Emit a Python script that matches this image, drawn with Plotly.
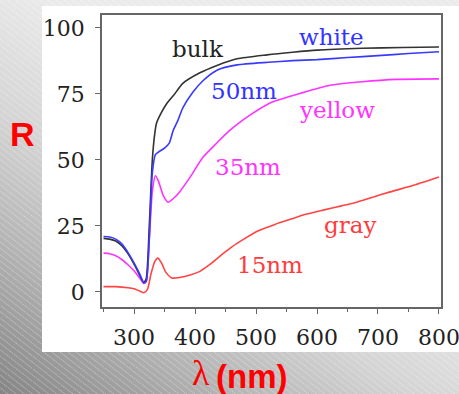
import base64
import plotly.graph_objects as go

# ---- data ----
wl_bulk = [250, 260, 270, 280, 290, 300, 310, 316, 320, 325, 330, 334, 337, 345, 354, 365, 380, 408, 436, 469, 518, 560, 600, 674, 740, 800]
r_bulk = [20.3, 20.0, 19.3, 17.5, 14.5, 10.5, 6.0, 3.5, 5.0, 25.0, 50.0, 60.0, 64.0, 68.0, 71.5, 74.5, 79.0, 83.0, 85.8, 88.3, 89.8, 90.8, 91.6, 92.3, 92.6, 92.8]

wl_white = [250, 260, 270, 280, 290, 300, 310, 316, 320, 325, 330, 335, 340, 350, 358, 364, 372, 380, 397, 413, 436, 469, 520, 560, 600, 650, 700, 750, 800]
r_white = [21.0, 20.8, 20.0, 18.2, 15.0, 11.0, 6.5, 3.5, 4.0, 20.0, 45.0, 52.0, 53.0, 54.5, 56.5, 61.0, 65.0, 69.7, 75.8, 80.0, 84.0, 86.0, 87.0, 87.6, 88.0, 88.8, 89.5, 90.3, 91.0]

wl_yellow = [250, 260, 270, 280, 290, 300, 310, 316, 320, 325, 330, 335, 340, 348, 356, 365, 375, 392, 413, 436, 456, 469, 490, 523, 577, 620, 674, 730, 800]
r_yellow = [14.7, 14.5, 13.7, 12.3, 10.3, 8.0, 5.0, 3.2, 4.0, 20.0, 38.0, 44.0, 42.0, 36.5, 34.0, 35.5, 38.0, 43.5, 51.0, 56.5, 61.0, 63.5, 67.0, 71.6, 75.5, 78.2, 79.6, 80.5, 80.7]

wl_gray = [250, 270, 290, 300, 310, 316, 322, 328, 334, 339, 345, 352, 362, 375, 392, 408, 425, 446, 460, 480, 502, 530, 556, 580, 610, 640, 665, 690, 720, 760, 800]
r_gray = [2.0, 2.0, 1.6, 1.2, 0.3, -0.3, 1.0, 7.0, 11.5, 12.8, 11.0, 7.5, 5.3, 5.5, 6.4, 7.8, 10.5, 14.5, 17.0, 20.0, 23.0, 25.5, 27.5, 29.3, 31.0, 32.6, 34.0, 35.8, 37.9, 40.5, 43.5]

x_ticks = [300, 400, 500, 600, 700, 800]
y_ticks = [0, 25, 50, 75, 100]

label_text = ["bulk", "white", "50nm", "yellow", "35nm", "gray", "15nm"]
label_x = [405, 623, 480, 633, 487, 654, 523]
label_y = [92.0, 96.6, 76.1, 68.9, 47.3, 25.4, 10.2]
label_color = ["#222222", "#3333ff", "#3333ff", "#ff33ff", "#ff33ff", "#ff3b3b", "#ff3b3b"]

# ---- background: grey gradient with diagonal stripes ----
W, H = 459, 394
svg = f'''<svg xmlns="http://www.w3.org/2000/svg" width="{W}" height="{H}" viewBox="0 0 {W} {H}">
<defs>
<linearGradient id="g" gradientUnits="userSpaceOnUse" x1="0" y1="{H}" x2="200" y2="100">
<stop offset="0" stop-color="#858585"/>
<stop offset="0.35" stop-color="#b3b3b3"/>
<stop offset="0.65" stop-color="#d4d4d4"/>
<stop offset="1" stop-color="#ebebeb"/>
</linearGradient>
<pattern id="p" patternUnits="userSpaceOnUse" width="8" height="5" patternTransform="rotate(38)">
<line x1="0" y1="0.5" x2="8" y2="0.5" stroke="#ffffff" stroke-opacity="0.4" stroke-width="0.9" stroke-dasharray="1.5 1"/>
</pattern>
</defs>
<rect width="{W}" height="{H}" fill="url(#g)"/>
<rect width="{W}" height="{H}" fill="url(#p)"/>
</svg>'''
bg_src = "data:image/svg+xml;base64," + base64.b64encode(svg.encode()).decode()

# plot area geometry in pixels
L, R_, T, B = 102, 441, 15, 307
pw, ph = R_ - L, B - T


def px(xp):
    return (xp - L) / pw


def py(yp):
    return (B - yp) / ph


fig = go.Figure()
lw = 1.6
fig.add_trace(go.Scatter(x=wl_gray, y=r_gray, mode="lines", line=dict(color="#ff4444", width=lw, shape="spline", smoothing=0.6)))
fig.add_trace(go.Scatter(x=wl_yellow, y=r_yellow, mode="lines", line=dict(color="#ff33ff", width=lw, shape="spline", smoothing=0.6)))
fig.add_trace(go.Scatter(x=wl_bulk, y=r_bulk, mode="lines", line=dict(color="#333333", width=lw, shape="spline", smoothing=0.6)))
fig.add_trace(go.Scatter(x=wl_white, y=r_white, mode="lines", line=dict(color="#3a3aff", width=lw, shape="spline", smoothing=0.6)))

annotations = []
for t, x, y, c in zip(label_text, label_x, label_y, label_color):
    annotations.append(dict(x=x, y=y, xref="x", yref="y", text=t, showarrow=False,
                            xanchor="center", yanchor="middle",
                            font=dict(family="DejaVu Serif", size=23, color=c)))

annotations.append(dict(x=px(22), y=py(134), xref="paper", yref="paper", text="<b>R</b>", showarrow=False,
                        xanchor="center", yanchor="middle",
                        font=dict(family="Liberation Sans", size=34, color="#ff0000")))
annotations.append(dict(x=px(201), y=py(373), xref="paper", yref="paper", text="λ", showarrow=False,
                        xanchor="center", yanchor="middle",
                        font=dict(family="Liberation Serif", size=36, color="#ff0000")))
annotations.append(dict(x=px(251), y=py(376), xref="paper", yref="paper", text="<b>(nm)</b>", showarrow=False,
                        xanchor="center", yanchor="middle",
                        font=dict(family="Liberation Sans", size=33, color="#ff0000")))

fig.update_layout(
    width=W, height=H,
    margin=dict(l=L, r=W - R_, t=T, b=H - B, autoexpand=False),
    paper_bgcolor="rgba(0,0,0,0)",
    plot_bgcolor="rgba(0,0,0,0)",
    showlegend=False,
    annotations=annotations,
    images=[dict(source=bg_src, xref="paper", yref="paper", x=px(0), y=py(0),
                 sizex=W / pw, sizey=H / ph, xanchor="left", yanchor="top",
                 sizing="stretch", layer="below")],
    shapes=[dict(type="rect", xref="paper", yref="paper", x0=px(42), x1=px(459), y0=py(352), y1=py(6),
                 fillcolor="white", line=dict(width=0), layer="below")],
)

axis_common = dict(showgrid=False, zeroline=False, showline=True, mirror=True, linecolor="#666666", linewidth=1.5,
                   ticks="outside", ticklen=5, tickwidth=1.3, tickcolor="#666666",
                   ticklabeloverflow="allow", automargin=False,
                   tickfont=dict(family="DejaVu Serif", size=22, color="#222222"))
fig.update_xaxes(range=[247.5, 803.3], tickvals=x_ticks, ticktext=[str(v) for v in x_ticks],
                 ticklabelstandoff=5,
                 minor=dict(dtick=50, tick0=0, ticks="outside", ticklen=3, tickcolor="#666666", tickwidth=1.2),
                 **axis_common)
fig.update_yaxes(range=[-5.7, 104.9], tickvals=y_ticks, ticktext=[str(v) for v in y_ticks],
                 ticklabelstandoff=6, **axis_common)

fig.write_html("out.html")
